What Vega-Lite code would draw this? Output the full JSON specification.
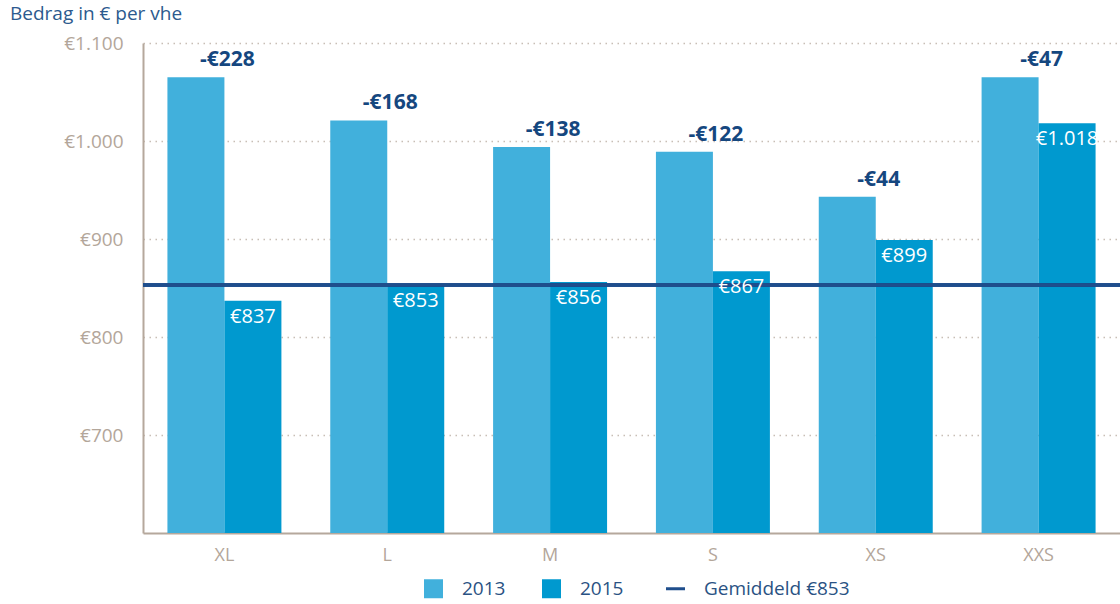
{
  "$schema": "https://vega.github.io/schema/vega-lite/v6.json",
  "width": 977,
  "height": 490,
  "autosize": {"type": "none"},
  "padding": {"left": 143, "top": 43, "right": 0, "bottom": 71},
  "config": {
    "locale": {"number": {"decimal": ",", "thousands": ".", "grouping": [3], "currency": ["€", ""], "minus": "-"}},
    "view": {"stroke": null},
    "font": "Open Sans",
    "axisX": {"title": null, "labelColor": "#B3A69A", "labelFontSize": 18, "labelPadding": 13, "ticks": false, "domainColor": "#B5A89C", "domainWidth": 2, "labelAngle": 0, "grid": false, "zindex": 1},
    "axisY": {"title": null, "labelColor": "#B3A69A", "labelFontSize": 19, "labelPadding": 20, "ticks": false, "domainColor": "#B5A89C", "domainWidth": 2, "gridColor": "#B0A295", "gridDash": [1.5, 4.5], "gridWidth": 1.5, "gridOpacity": 0.7, "zindex": 1},
    "legend": {"title": null, "labelFontSize": 19, "labelColor": "#2A5283", "labelFont": "Open Sans", "symbolSize": 361, "symbolType": "square", "labelOffset": 19, "columnPadding": 36, "padding": 0}
  },
  "title": {"text": "Bedrag in € per vhe", "anchor": "start", "frame": "group", "dx": -133, "fontSize": 19, "fontWeight": "normal", "color": "#2C5A8E", "offset": 10, "font": "Open Sans"},
  "data": {
    "values": [
      {"cat": "XL", "year": "2013", "value": 1065, "diff": -228},
      {"cat": "XL", "year": "2015", "value": 837},
      {"cat": "L", "year": "2013", "value": 1021, "diff": -168},
      {"cat": "L", "year": "2015", "value": 853},
      {"cat": "M", "year": "2013", "value": 994, "diff": -138},
      {"cat": "M", "year": "2015", "value": 856},
      {"cat": "S", "year": "2013", "value": 989, "diff": -122},
      {"cat": "S", "year": "2015", "value": 867},
      {"cat": "XS", "year": "2013", "value": 943, "diff": -44},
      {"cat": "XS", "year": "2015", "value": 899},
      {"cat": "XXS", "year": "2013", "value": 1065, "diff": -47},
      {"cat": "XXS", "year": "2015", "value": 1018}
    ]
  },
  "layer": [
    {
      "mark": {"type": "bar", "clip": true},
      "encoding": {
        "x": {"field": "cat", "type": "nominal", "sort": ["XL", "L", "M", "S", "XS", "XXS"], "scale": {"paddingInner": 0.3, "paddingOuter": 0.15}},
        "xOffset": {"field": "year", "type": "nominal", "scale": {"paddingInner": 0, "paddingOuter": 0}},
        "y": {"field": "value", "type": "quantitative", "scale": {"domain": [600, 1100], "nice": false, "zero": false}, "axis": {"values": [700, 800, 900, 1000, 1100], "format": "$,.0f"}},
        "color": {
          "field": "year", "type": "nominal",
          "scale": {"domain": ["2013", "2015", "Gemiddeld €853"], "range": ["#41B0DC", "#0099CF", "#1F4E8C"]},
          "legend": {
            "orient": "none", "legendX": 281, "legendY": 536, "direction": "horizontal",
            "encode": {"symbols": {"update": {
              "shape": {"signal": "datum.value === 'Gemiddeld €853' ? 'stroke' : 'square'"},
              "fill": {"signal": "datum.value === 'Gemiddeld €853' ? 'transparent' : (datum.value === '2013' ? '#82CDEA' : '#0099CF')"},
              "stroke": {"signal": "datum.value === 'Gemiddeld €853' ? '#1F4E8C' : 'transparent'"},
              "strokeWidth": {"signal": "datum.value === 'Gemiddeld €853' ? 3 : 0"},
              "opacity": {"value": 1},
              "fillOpacity": {"value": 1}
            }}}
          }
        }
      }
    },
    {
      "mark": {"type": "rule", "strokeWidth": 2.5},
      "encoding": {
        "y": {"datum": 853},
        "color": {"datum": "Gemiddeld €853"}
      }
    },
    {
      "transform": [{"filter": "datum.year === '2013'"}],
      "mark": {"type": "text", "fontWeight": "bold", "fontSize": 21, "color": "#15477F", "baseline": "bottom", "dy": -7, "dx": 3},
      "encoding": {
        "x": {"field": "cat", "type": "nominal", "sort": ["XL", "L", "M", "S", "XS", "XXS"]},
        "y": {"field": "value", "type": "quantitative"},
        "text": {"field": "diff", "type": "quantitative", "format": "$,.0f"}
      }
    },
    {
      "transform": [{"filter": "datum.year === '2015'"}],
      "mark": {"type": "text", "fontSize": 20, "color": "#FFFFFF", "baseline": "top", "dy": 6},
      "encoding": {
        "x": {"field": "cat", "type": "nominal", "sort": ["XL", "L", "M", "S", "XS", "XXS"]},
        "xOffset": {"field": "year", "type": "nominal"},
        "y": {"field": "value", "type": "quantitative"},
        "text": {"field": "value", "type": "quantitative", "format": "$,.0f"}
      }
    }
  ]
}
